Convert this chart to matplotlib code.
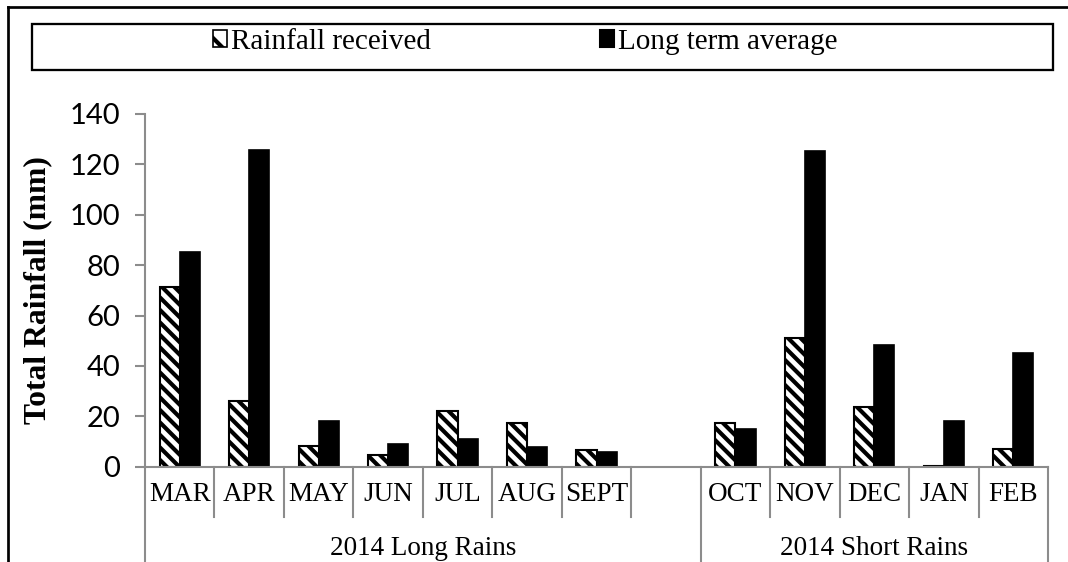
"""
Monthly rainfall 2014 vs long term average
"""
import numpy as np
import matplotlib
matplotlib.use('Agg')
import matplotlib.pyplot as plt
from matplotlib.patches import Patch, Rectangle
from matplotlib.lines import Line2D

plt.rcParams['hatch.linewidth'] = 2.0

# data (mm)
long_months = ['MAR', 'APR', 'MAY', 'JUN', 'JUL', 'AUG', 'SEPT']
long_received = [71.5, 26.2, 8.2, 4.8, 22.0, 17.5, 6.8]
long_average = [85.1, 125.6, 18.1, 9.1, 11.0, 8.0, 6.0]

short_months = ['OCT', 'NOV', 'DEC', 'JAN', 'FEB']
short_received = [17.5, 51.2, 23.6, 0.3, 7.2]
short_average = [15.1, 125.2, 48.2, 18.1, 45.0]

groups = ['2014 Long Rains', '2014 Short Rains']
yticks = [0, 20, 40, 60, 80, 100, 120, 140]

# one empty slot closes the long rains group
months = long_months + [''] + short_months
received = long_received + [np.nan] + short_received
average = long_average + [np.nan] + short_average
x = np.arange(len(months))

W, H, DPI = 1068, 562, 150
fig = plt.figure(figsize=(W / DPI, H / DPI), dpi=DPI)
ax = fig.add_axes([145 / W, 1 - 466.7 / H, (1048 - 145) / W, (466.7 - 114) / H])

serif = 'Liberation Serif'
grey = '#8c8c8c'
hatch = '\\\\\\\\'

bw = 0.29
ax.bar(x - bw / 2, received, bw, color='white', edgecolor='black',
       hatch=hatch, linewidth=1.0)
ax.bar(x + bw / 2, average, bw, color='black', edgecolor='black', linewidth=0.8)

ax.set_xlim(-0.5, len(months) - 0.5)
ax.set_ylim(0, 140)
ax.set_yticks(yticks)
ax.tick_params(axis='y', length=5, width=1.0, color=grey, pad=7, labelsize=14)
for lbl in ax.get_yticklabels():
    lbl.set_family('Lato')

for s in ['top', 'right']:
    ax.spines[s].set_visible(False)
for s in ['left', 'bottom']:
    ax.spines[s].set_color(grey)
    ax.spines[s].set_linewidth(1.0)

# month labels and boundaries drawn by hand (two-level category axis)
ax.set_xticks([])
trans = ax.get_xaxis_transform()
for i, m in enumerate(months):
    ax.text(i, -0.078, m, transform=trans, ha='center', va='center',
            family=serif, fontsize=13)
n_long = len(long_months) + 1
for b in range(len(months) + 1):
    edge = b - 0.5
    full = b in (0, n_long, len(months))
    y_end = -0.5 if full else -0.143
    ax.plot([edge, edge], [0, y_end], transform=trans, color=grey,
            lw=1.0, clip_on=False)

centres = [(n_long - 1) / 2, n_long + (len(short_months) - 1) / 2]
for c, g in zip(centres, groups):
    ax.text(c, -0.232, g, transform=trans, ha='center', va='center',
            family=serif, fontsize=13)

ax.set_ylabel('Total Rainfall (mm)', family=serif, fontweight='bold', fontsize=15.2)
ax.yaxis.set_label_coords(-0.103, 0.5)

# legend in a wide box across the top
handles = [Patch(facecolor='white', edgecolor='black', hatch='\\\\', lw=0.8),
           Patch(facecolor='black', edgecolor='black')]
fig.legend(handles, ['Rainfall received', 'Long term average'], loc='center',
           bbox_to_anchor=(525 / W, 1 - 42 / H), ncol=2, frameon=False,
           prop={'family': serif, 'size': 14}, handlelength=0.5,
           handleheight=0.5, handletextpad=0.12, columnspacing=5.8)
fig.add_artist(Rectangle((32 / W, 1 - 70 / H), (1053 - 32) / W, 46 / H,
                         transform=fig.transFigure, fill=False,
                         edgecolor='black', lw=1.1))

# outer frame (left and top only visible)
fig.add_artist(Line2D([8 / W, 8 / W], [0, 1 - 7 / H], transform=fig.transFigure,
                      color='black', lw=1.3))
fig.add_artist(Line2D([8 / W, 1], [1 - 7 / H, 1 - 7 / H],
                      transform=fig.transFigure, color='black', lw=1.3))

fig.savefig('out.png', dpi=DPI)
